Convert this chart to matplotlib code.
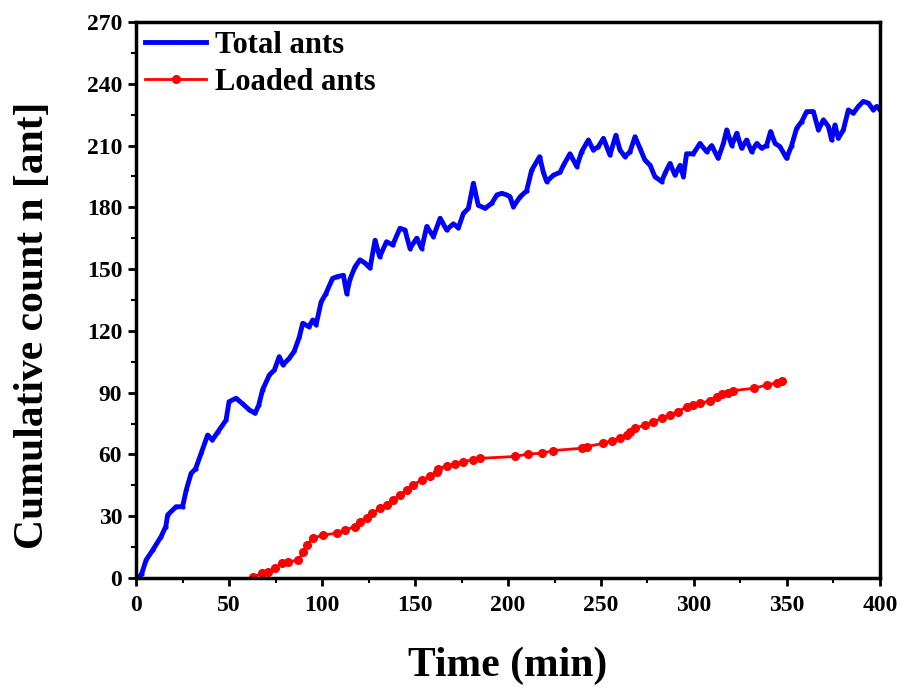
import numpy as np
import matplotlib
matplotlib.use('Agg')
import matplotlib.pyplot as plt
from matplotlib.ticker import MultipleLocator

plt.rcParams['font.family'] = ['Liberation Serif', 'DejaVu Serif']
plt.rcParams['font.weight'] = 'bold'

# total ants (min, count)
t_total = [0, 1.8, 3, 5.4, 9, 13.4, 16, 17, 21.5, 25, 27, 29.6, 32, 35, 38.5, 41, 44,
           48.4, 50, 53.8, 57, 61, 64, 66, 68, 71.7, 74.4, 77, 79, 82.4, 85, 87.8,
           89.6, 93, 95, 96.8, 99.5, 102, 105.7, 108, 111.5, 113.3, 115, 117.7,
           120.4, 123, 125.8, 128.5, 131, 134.7, 138, 141.9, 144.6, 147.3, 150.9,
           153.6, 156.3, 159.9, 163.5, 167, 170.6, 173.3, 176, 178.7, 181.4, 184,
           187.7, 191.3, 194, 196.6, 199.4, 201, 202.9, 206.4, 210, 212.7, 217, 219,
           220.8, 224.4, 228, 229.8, 233.3, 237, 239.6, 243.2, 245.9, 248.6, 251.3,
           254.8, 258, 260.2, 262.9, 265.6, 268.3, 271, 273.6, 276.4, 279, 282.6,
           284.4, 287.1, 289.8, 292.5, 294.3, 296, 299.6, 303.2, 306.8, 309.5, 313,
           315.8, 317.6, 320.3, 323, 325.6, 328.3, 331, 333.7, 336.4, 339, 341.2,
           343.6, 346.2, 349.8, 352.5, 355.2, 357.9, 360.6, 364.2, 366.9, 369.6,
           372.3, 374, 375.8, 377.6, 380.3, 383, 385.7, 388.4, 391, 393.8, 396.4,
           398.2, 400]
n_total = [0, 0.6, 2, 8.7, 13.6, 20, 25, 30.6, 34.6, 34.6, 42.7, 50.8, 53, 60.5, 69.4,
           67, 70.9, 76.7, 85.6, 87.3, 84.8, 81.6, 80, 84, 91.3, 98.6, 101, 107.5,
           103.5, 106.7, 110, 117, 123.7, 122, 125.3, 122.9, 134, 138, 145.5, 146.3,
           147, 138, 145, 151, 154.5, 153, 150.5, 164, 156, 163.3, 161.7, 169.8, 169,
           160, 165, 160, 170.7, 165.8, 174.7, 169, 172, 170, 177, 179.5, 191.7, 181,
           179.5, 182, 186, 186.8, 186, 185.2, 180.3, 185, 188, 198, 204.6, 197,
           192.5, 195.6, 197, 200.4, 206, 199.8, 207, 212.7, 207.8, 209.5, 213.5,
           205.4, 215, 207.8, 204.6, 207, 214.3, 208.6, 203, 200.4, 194.9, 192.5,
           196.5, 201.3, 195.6, 200.4, 194.9, 206, 206, 211, 207, 210, 203.8, 211,
           217.6, 210, 216, 208.7, 212.7, 207, 211, 208.7, 210, 216.8, 211, 209.5,
           203.8, 210, 218.4, 221.6, 226.5, 226.5, 217.6, 222.5, 219.2, 212.7, 220,
           213.5, 217.6, 227.3, 225.7, 229, 231.4, 230.6, 227.3, 229, 227.3]

# loaded ants
t_loaded = [63, 67.6, 71.1, 74.7, 78.3, 81.9, 87.3, 89.9, 91.7, 95.3, 100.7, 107.8,
            112.4, 117.7, 120.4, 124, 126.7, 131.2, 134.7, 138.4, 141.9, 145.5, 149.1,
            153.6, 158.1, 161.6, 162.5, 167, 171.5, 175.9, 181.4, 185, 203.8, 211,
            218.1, 224.4, 239.6, 242.3, 251.3, 255.7, 260.2, 263.8, 265.6, 268.3,
            273.7, 278.1, 282.6, 287.1, 291.6, 296.1, 299.6, 303.2, 308.6, 312.2,
            314.9, 318.5, 321.2, 332, 339.1, 344.5, 347.2]
n_loaded = [0.6, 2.2, 3, 4.7, 7.1, 7.9, 8.7, 12.7, 16, 19.3, 20.9, 21.7, 23.3, 24.9,
            27.4, 29, 31.4, 33.8, 35.4, 37.9, 40.3, 42.7, 45.2, 47.6, 49.3, 51.7, 52.9,
            54.5, 55.3, 56.5, 57.4, 58.1, 59, 60.3, 60.5, 61.9, 63, 63.8, 65.4, 66.7,
            67.8, 69.4, 71, 72.7, 74.3, 75.9, 77.5, 79.2, 80.8, 83.2, 84, 84.8, 86.1,
            88.1, 89.4, 90, 91, 92.1, 93.7, 94.8, 95.8]

fig = plt.figure(figsize=(9.1, 7), dpi=100)
ax = fig.add_axes([0.1495, 0.1743, 0.8175, 0.7943])

ax.plot(t_total, n_total, color='#0000FF', lw=3.5, marker='o', ms=2, label='Total ants')
ax.plot(t_loaded, n_loaded, color='#FF0000', lw=2, marker='o', ms=5.5, label='Loaded ants')

ax.set_xlim(0, 400)
ax.set_ylim(0, 270)
ax.xaxis.set_major_locator(MultipleLocator(50))
ax.xaxis.set_minor_locator(MultipleLocator(25))
ax.yaxis.set_major_locator(MultipleLocator(30))
ax.yaxis.set_minor_locator(MultipleLocator(15))
ax.tick_params(which='major', direction='out', length=6, width=2, labelsize=17, pad=4)
ax.tick_params(axis='x', which='major', pad=6)
ax.tick_params(which='minor', direction='out', length=3.5, width=1.5)
for s in ax.spines.values():
    s.set_linewidth(2.5)

ax.set_xlabel('Time (min)', fontsize=30, fontweight='bold', labelpad=22)
ax.set_ylabel('Cumulative count n [ant]', fontsize=30, fontweight='bold')
ax.yaxis.set_label_coords(-0.113, 0.455)

ax.legend(loc='upper left', frameon=False, fontsize=22, handlelength=2.0,
          handletextpad=0.3, labelspacing=0.25, borderaxespad=0.1, borderpad=0.2)

fig.savefig('out.png', dpi=100)
